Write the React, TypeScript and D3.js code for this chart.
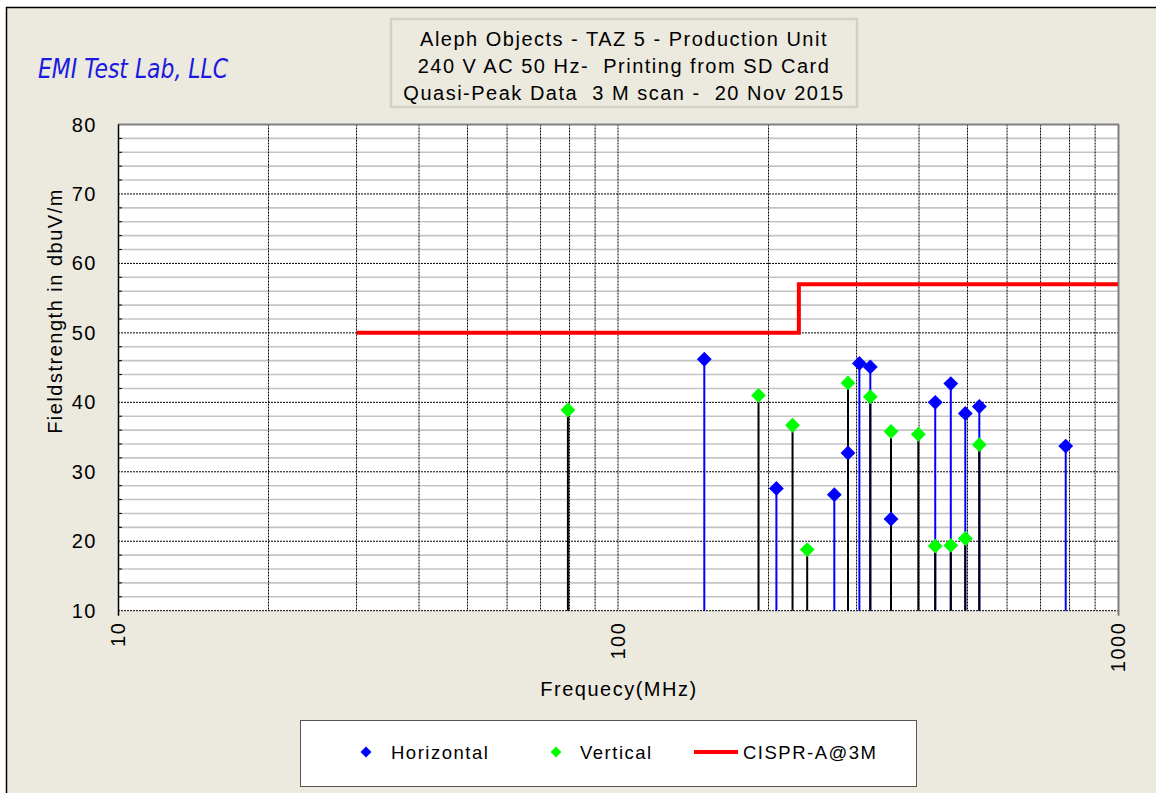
import React from "react";
import * as d3 from "d3";

// ---- Data ----
const hFreq = [148.8, 207.4, 270.8, 288.4, 303.9, 319.6, 351.6, 431, 463, 495, 528, 786];
const hVal = [46.2, 27.6, 26.7, 32.7, 45.6, 45.1, 23.2, 40.0, 42.7, 38.4, 39.4, 33.7];
const vFreq = [79.4, 191, 223.4, 239, 288.4, 319.6, 351.6, 398.7, 431, 463, 495, 528];
const vVal = [38.9, 41.0, 36.7, 18.8, 42.8, 40.8, 35.8, 35.4, 19.3, 19.4, 20.4, 33.9];
const limitFreq = [30, 230, 230, 1000];
const limitVal = [50, 50, 57, 57];
const yTicks = [10, 20, 30, 40, 50, 60, 70, 80];
const xTickLabels = [10, 100, 1000];
const titleLines = [
  "Aleph Objects - TAZ 5 - Production Unit",
  "240 V AC 50 Hz-  Printing from SD Card",
  "Quasi-Peak Data  3 M scan -  20 Nov 2015",
];
const legendItems = ["Horizontal", "Vertical", "CISPR-A@3M"];

const W = 1156;
const H = 793;
const BG = "#ECE9DF";
const FONT = "Arial, 'Liberation Sans', sans-serif";

export default function App() {
  const left = 118, right = 1118, top = 124.5, bottom = 610.7;
  const x = d3.scaleLog().domain([10, 1000]).range([left, right]);
  const y = d3.scaleLinear().domain([10, 80]).range([bottom, top]);

  const minorY = d3.range(12, 80, 2).filter((v) => v % 10 !== 0);
  const majorY = yTicks;
  const vGrid: number[] = [];
  for (const dec of [10, 100]) for (let k = 2; k <= 9; k++) vGrid.push(dec * k);
  vGrid.push(100);

  const diamond = d3.symbol().type(d3.symbolSquare).size(110)()!;
  const legDiamond = d3.symbol().type(d3.symbolSquare).size(60)()!;

  const limitPts: [number, number][] = limitFreq.map((f, i) => [x(f), y(limitVal[i])]);
  const limitPath = d3.line()(limitPts)!;

  const hPts = hFreq.map((f, i) => ({ f, v: hVal[i] }));
  const vPts = vFreq.map((f, i) => ({ f, v: vVal[i] }));

  const ls = 1.5;
  const pre = { whiteSpace: "pre" } as React.CSSProperties;

  return (
    <svg
      width={W}
      height={H}
      style={{ position: "absolute", left: 0, top: 0, display: "block" }}
      fontFamily={FONT}
    >
      <rect x={0} y={0} width={W} height={H} fill="#fff" />
      <rect x={6} y={7} width={W - 6} height={H - 7} fill={BG} />
      <line x1={6} x2={W} y1={7.5} y2={7.5} stroke="#000" strokeWidth={1.5} />
      <line x1={6.5} x2={6.5} y1={7} y2={H} stroke="#000" strokeWidth={1.5} />

      {/* logo */}
      <text
        x={38}
        y={78}
        fontFamily="'Liberation Sans Narrow', 'DejaVu Sans Condensed', sans-serif"
        fontStyle="italic"
        fontSize={27}
        fill="#1a1ae0"
        textLength={190}
        lengthAdjust="spacingAndGlyphs"
      >
        EMI Test Lab, LLC
      </text>

      {/* title box */}
      <rect x={391} y={19} width={466} height={88} fill={BG} stroke="#D2D0CA" strokeWidth={2.5} />
      {titleLines.map((t, i) => (
        <text
          key={i}
          x={624}
          y={46 + i * 27}
          textAnchor="middle"
          fontSize={20}
          letterSpacing={ls}
          fill="#000"
          style={pre}
        >
          {t}
        </text>
      ))}

      {/* plot area */}
      <rect x={left} y={top} width={right - left} height={bottom - top} fill="#fff" />
      {minorY.map((v) => (
        <line key={"mn" + v} x1={left} x2={right} y1={y(v)} y2={y(v)} stroke="#C4C4C4" strokeWidth={1.6} />
      ))}
      {majorY.map((v) => (
        <line key={"mj" + v} x1={left} x2={right} y1={y(v)} y2={y(v)} stroke="#000" strokeWidth={1} strokeDasharray="2,1" />
      ))}
      {vGrid.map((f) => (
        <line key={"vg" + f} x1={x(f)} x2={x(f)} y1={top} y2={bottom} stroke="#000" strokeWidth={1} strokeDasharray="2,1" />
      ))}
      {minorY.map((v) => (
        <line key={"tk" + v} x1={left} x2={left + 4} y1={y(v)} y2={y(v)} stroke="#000" strokeWidth={1} />
      ))}
      {/* borders */}
      <line x1={left} x2={right + 1} y1={top} y2={top} stroke="#808080" strokeWidth={2} />
      <line x1={right + 0.5} x2={right + 0.5} y1={top} y2={bottom + 5} stroke="#808080" strokeWidth={2} />
      <line x1={left + 0.5} x2={left + 0.5} y1={top} y2={bottom + 5} stroke="#000" strokeWidth={1.5} />

      {/* limit line */}
      <path d={limitPath} fill="none" stroke="#FF0000" strokeWidth={4} />

      {/* stems: horizontal (blue) first, vertical (black) on top */}
      {hPts.map((p, i) => (
        <line key={"hs" + i} x1={x(p.f)} x2={x(p.f)} y1={y(10)} y2={y(p.v)} stroke="#0000FF" strokeWidth={2} />
      ))}
      {vPts.map((p, i) => (
        <line key={"vs" + i} x1={x(p.f)} x2={x(p.f)} y1={y(10)} y2={y(p.v)} stroke="#000" strokeWidth={2} />
      ))}
      {vPts.map((p, i) => (
        <path key={"vm" + i} d={diamond} transform={`translate(${x(p.f)},${y(p.v)}) rotate(45)`} fill="#00FF00" />
      ))}
      {hPts.map((p, i) => (
        <path key={"hm" + i} d={diamond} transform={`translate(${x(p.f)},${y(p.v)}) rotate(45)`} fill="#0000FF" />
      ))}

      {/* y tick labels */}
      {yTicks.map((v) => (
        <text key={"yl" + v} x={97} y={y(v) + 7} textAnchor="end" fontSize={20} letterSpacing={ls} fill="#000">
          {v}
        </text>
      ))}
      {/* x tick labels */}
      {xTickLabels.map((f) => (
        <text
          key={"xl" + f}
          transform={`translate(${x(f) + 7},${bottom + 11}) rotate(-90)`}
          textAnchor="end"
          fontSize={20}
          letterSpacing={ls}
          fill="#000"
        >
          {f}
        </text>
      ))}

      {/* axis titles */}
      <text x={619} y={696} textAnchor="middle" fontSize={20} letterSpacing={ls} fill="#000">
        Frequecy(MHz)
      </text>
      <text
        transform={`translate(62,311) rotate(-90)`}
        textAnchor="middle"
        fontSize={20}
        letterSpacing={ls}
        fill="#000"
      >
        Fieldstrength in dbuV/m
      </text>

      {/* legend */}
      <rect x={300.5} y={720.5} width={616} height={66} fill="#fff" stroke="#555" strokeWidth={1} />
      <path d={legDiamond} transform={`translate(366,752) rotate(45)`} fill="#0000FF" />
      <text x={391} y={759} fontSize={18.5} letterSpacing={ls} fill="#000">
        {legendItems[0]}
      </text>
      <path d={legDiamond} transform={`translate(556,752) rotate(45)`} fill="#00FF00" />
      <text x={580} y={759} fontSize={18.5} letterSpacing={ls} fill="#000">
        {legendItems[1]}
      </text>
      <line x1={694} x2={738} y1={752} y2={752} stroke="#FF0000" strokeWidth={4} />
      <text x={743} y={759} fontSize={18.5} letterSpacing={ls} fill="#000">
        {legendItems[2]}
      </text>
    </svg>
  );
}
